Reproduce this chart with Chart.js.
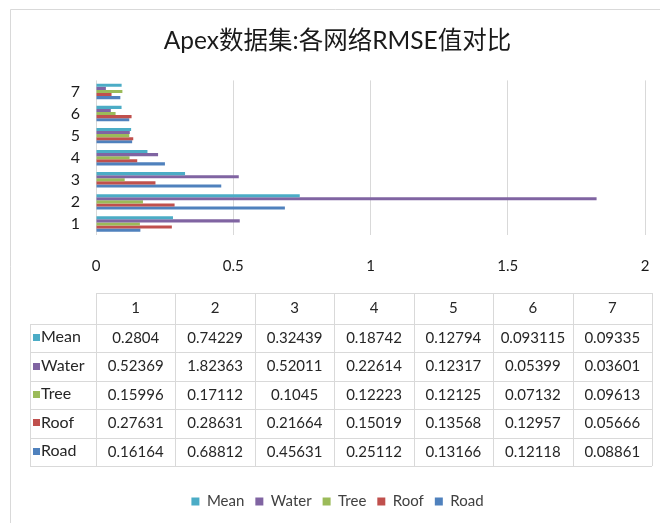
<!DOCTYPE html>
<html>
<head>
<meta charset="utf-8">
<script src="https://cdn.jsdelivr.net/npm/chart.js@4.4.1/dist/chart.umd.min.js"></script>
<style>
  html, body { margin: 0; padding: 0; background: #fff; }
  #wrap { width: 660px; height: 523px; position: relative; }
</style>
</head>
<body>
<div id="wrap"><canvas id="c" width="660" height="523"></canvas></div>
<script>
const categories = ['1', '2', '3', '4', '5', '6', '7'];
const seriesNames = ['Mean', 'Water', 'Tree', 'Roof', 'Road'];
const mean  = [0.2804, 0.74229, 0.32439, 0.18742, 0.12794, 0.093115, 0.09335];
const water = [0.52369, 1.82363, 0.52011, 0.22614, 0.12317, 0.05399, 0.03601];
const tree  = [0.15996, 0.17112, 0.1045, 0.12223, 0.12125, 0.07132, 0.09613];
const roof  = [0.27631, 0.28631, 0.21664, 0.15019, 0.13568, 0.12957, 0.05666];
const road  = [0.16164, 0.68812, 0.45631, 0.25112, 0.13166, 0.12118, 0.08861];
const xTicks = [0, 0.5, 1, 1.5, 2];
const xTickLabels = ['0', '0.5', '1', '1.5', '2'];
const titleText = 'Apex数据集:各网络RMSE值对比';

const seriesValues = [mean, water, tree, roof, road];
const seriesColors = ['#4BACC6', '#8064A2', '#9BBB59', '#C0504D', '#4F81BD'];

const FONT = 'Lato, "Noto Sans CJK SC", sans-serif';
const PAD_BOTTOM = 4;
const PAD_LEFT = 30;
const PLOT_LEFT = 96;
const PLOT_BOTTOM = 235;

const framePlugin = {
  id: 'frame',
  beforeDraw(chart) {
    const ctx = chart.ctx;
    ctx.save();
    ctx.fillStyle = '#fff';
    ctx.fillRect(0, 0, chart.width, chart.height);
    ctx.strokeStyle = '#d9d9d9';
    ctx.lineWidth = 1;
    ctx.beginPath();
    ctx.moveTo(10.5, chart.height);
    ctx.lineTo(10.5, 9.5);
    ctx.lineTo(chart.width, 9.5);
    ctx.stroke();
    ctx.restore();
  }
};

const tablePlugin = {
  id: 'dataTable',
  afterDraw(chart) {
    const ctx = chart.ctx;
    const left = chart.chartArea.left;
    const right = 652;
    const labelLeft = 30;
    const top = 293;
    const headH = 31;
    const rowH = 28.4;
    const n = categories.length;
    const colW = (right - left) / n;
    const bottom = top + headH + rowH * seriesNames.length;
    ctx.save();
    ctx.strokeStyle = '#d9d9d9';
    ctx.lineWidth = 1;
    const px = v => Math.round(v) + 0.5;
    ctx.beginPath();
    ctx.moveTo(left, px(top)); ctx.lineTo(right, px(top));
    for (let r = 0; r <= seriesNames.length; r++) {
      const y = px(top + headH + r * rowH);
      ctx.moveTo(labelLeft, y); ctx.lineTo(right, y);
    }
    ctx.moveTo(px(labelLeft), top + headH); ctx.lineTo(px(labelLeft), bottom);
    for (let c = 0; c <= n; c++) {
      const x = px(left + c * colW);
      ctx.moveTo(x, top); ctx.lineTo(x, bottom);
    }
    ctx.stroke();

    ctx.fillStyle = '#262626';
    ctx.font = '15px ' + FONT;
    ctx.textBaseline = 'middle';
    ctx.textAlign = 'center';
    for (let c = 0; c < n; c++) {
      ctx.fillText(categories[c], left + (c + 0.5) * colW, top + headH / 2);
    }
    for (let r = 0; r < seriesNames.length; r++) {
      const cy = top + headH + (r + 0.5) * rowH;
      ctx.fillStyle = seriesColors[r];
      ctx.fillRect(33, Math.round(cy - 4), 7, 7);
      ctx.fillStyle = '#262626';
      ctx.textAlign = 'left';
      ctx.font = '16px ' + FONT;
      ctx.fillText(seriesNames[r], 41, cy - 1);
      ctx.textAlign = 'center';
      ctx.font = '15px ' + FONT;
      for (let c = 0; c < n; c++) {
        ctx.fillText(String(seriesValues[r][c]), left + (c + 0.5) * colW, cy);
      }
    }
    ctx.restore();
  }
};

const datasets = seriesNames.map((name, i) => ({
  label: name,
  data: seriesValues[i],
  backgroundColor: seriesColors[i],
  borderWidth: 0,
  categoryPercentage: 0.7,
  barPercentage: 1.0
}));

new Chart(document.getElementById('c'), {
  type: 'bar',
  data: { labels: categories, datasets },
  plugins: [framePlugin, tablePlugin],
  options: {
    indexAxis: 'y',
    responsive: false,
    animation: false,
    layout: { padding: { left: PAD_LEFT, right: 15, top: 0, bottom: PAD_BOTTOM } },
    plugins: {
      title: {
        display: true,
        text: titleText,
        color: '#1a1a1a',
        font: { family: FONT, size: 24.5, weight: 'normal' },
        padding: { top: 26, bottom: 25 }
      },
      legend: {
        display: true,
        position: 'bottom',
        labels: {
          boxWidth: 8,
          boxHeight: 8,
          padding: 11,
          color: '#404040',
          font: { family: FONT, size: 15 }
        }
      },
      tooltip: { enabled: false }
    },
    scales: {
      x: {
        type: 'linear',
        min: 0,
        max: 2,
        afterBuildTicks(scale) { scale.ticks = xTicks.map(v => ({ value: v })); },
        afterFit(scale) {
          const lg = scale.chart.legend;
          const lh = lg ? lg.height : 0;
          scale.height = scale.chart.height - PAD_BOTTOM - lh - PLOT_BOTTOM;
        },
        grid: { color: '#d9d9d9', drawTicks: true, tickLength: 20, tickColor: 'rgba(0,0,0,0)', lineWidth: 1 },
        border: { display: false },
        ticks: {
          color: '#1a1a1a',
          font: { family: FONT, size: 15 },
          padding: 2,
          maxRotation: 0,
          callback: (v, i) => xTickLabels[i]
        }
      },
      y: {
        reverse: true,
        afterFit(scale) { scale.width = PLOT_LEFT - PAD_LEFT; },
        grid: { display: false, drawTicks: false },
        border: { display: false },
        ticks: {
          color: '#1a1a1a',
          font: { family: FONT, size: 16 },
          padding: 16,
          autoSkip: false
        }
      }
    }
  }
});
</script>
</body>
</html>
